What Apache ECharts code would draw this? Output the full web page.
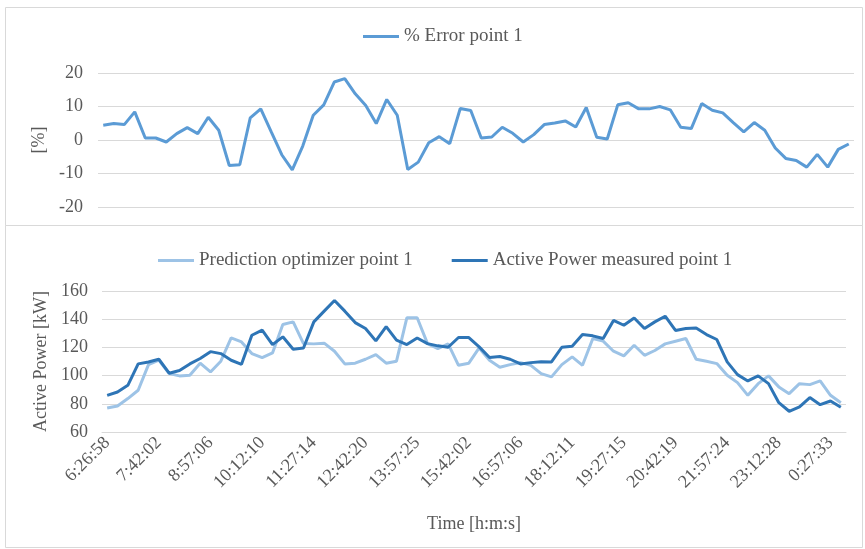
<!DOCTYPE html>
<html>
<head>
<meta charset="utf-8">
<title>Error and active power</title>
<script src="https://cdn.jsdelivr.net/npm/echarts/dist/echarts.min.js"></script>
<style>
  html, body { margin: 0; padding: 0; background: #fff; }
  #main { width: 865px; height: 549px; }
</style>
</head>
<body>
<div id="main"></div>
<script>
// labels shown on the time axis (every 5th sample)
var timeLabels = ['6:26:58', '7:42:02', '8:57:06', '10:12:10', '11:27:14', '12:42:20', '13:57:25',
  '15:42:02', '16:57:06', '18:12:11', '19:27:15', '20:42:19', '21:57:24', '23:12:28', '0:27:33'];

// % error, top panel
var errorPct = [4.4, 4.9, 4.6, 8.4, 0.6, 0.6, -0.6, 1.9, 3.7, 1.9,
  6.8, 2.9, -7.6, -7.4, 6.6, 9.3, 2.4, -4.4, -8.9, -1.8,
  7.4, 10.5, 17.3, 18.3, 13.8, 10.3, 4.9, 12.1, 7.4, -8.8,
  -6.6, -0.8, 1.0, -1.1, 9.4, 8.8, 0.6, 0.9, 3.8, 2.0,
  -0.6, 1.6, 4.6, 5.1, 5.7, 3.9, 9.7, 0.8, 0.3, 10.5,
  11.1, 9.3, 9.3, 10.0, 9.0, 3.8, 3.4, 10.9, 8.9, 8.1,
  5.2, 2.4, 5.2, 2.9, -2.4, -5.5, -6.1, -8.1, -4.3, -8.1,
  -2.8, -1.2];

// prediction optimizer, kW
var predicted = [77.0, 78.5, 83.7, 89.6, 107.8, 111.0, 101.4, 99.8, 100.2, 108.8,
  102.6, 110.2, 126.7, 123.9, 115.6, 112.8, 116.1, 136.2, 138.1, 122.7,
  122.5, 123.0, 117.3, 108.3, 108.8, 111.6, 114.9, 108.8, 110.2, 141.0,
  141.0, 122.7, 119.2, 122.5, 107.3, 108.8, 119.6, 110.9, 105.9, 107.8,
  109.2, 107.3, 101.4, 99.1, 107.8, 113.3, 107.3, 126.3, 124.5, 117.3,
  114.0, 121.5, 114.4, 117.8, 122.5, 124.4, 126.3, 111.6, 110.2, 108.5,
  100.2, 95.0, 86.0, 94.3, 99.8, 92.0, 87.2, 94.3, 93.6, 96.2,
  86.0, 80.8];

// measured active power, kW
var measured = [86.0, 88.4, 93.1, 108.3, 109.7, 111.6, 101.7, 103.6, 108.3, 112.1,
  117.0, 115.6, 110.9, 108.0, 128.6, 132.2, 122.0, 127.5, 118.7, 119.6,
  138.1, 145.7, 153.3, 145.7, 137.6, 133.4, 124.6, 134.8, 125.1, 122.0,
  126.7, 122.7, 121.1, 120.1, 127.0, 127.0, 120.4, 112.8, 113.5, 111.6,
  108.3, 109.2, 109.9, 109.7, 120.1, 120.8, 129.1, 128.2, 126.3, 139.1,
  135.7, 140.9, 133.4, 138.1, 142.1, 132.0, 133.4, 133.8, 129.1, 125.6,
  109.7, 100.7, 96.2, 99.8, 94.3, 80.8, 74.7, 77.8, 84.4, 79.4,
  82.0, 77.5];

// one category per sample, only every 5th carries a label
var categories = [];
for (var i = 0; i < measured.length; i++) {
  categories.push(i % 5 === 0 ? timeLabels[i / 5] : '');
}

var font = "'Liberation Serif', 'Times New Roman', serif";
var textColor = '#595959';
var gridColor = '#d9d9d9';

var myChart = echarts.init(document.getElementById('main'));

myChart.setOption({
  animation: false,
  textStyle: { fontFamily: font, color: textColor },
  graphic: [
    { type: 'rect', shape: { x: 5.5, y: 7.5, width: 857, height: 218 },
      style: { fill: 'none', stroke: gridColor, lineWidth: 1 } },
    { type: 'rect', shape: { x: 5.5, y: 225.5, width: 857, height: 322 },
      style: { fill: 'none', stroke: gridColor, lineWidth: 1 } }
  ],
  legend: [
    {
      data: ['% Error point 1'],
      left: 358, top: 22,
      icon: 'rect', itemWidth: 36, itemHeight: 3, itemGap: 40,
      textStyle: { fontFamily: font, fontSize: 19, color: textColor }
    },
    {
      data: ['Prediction optimizer point 1', 'Active Power measured point 1'],
      left: 153, top: 246,
      icon: 'rect', itemWidth: 36, itemHeight: 3, itemGap: 39,
      textStyle: { fontFamily: font, fontSize: 19, color: textColor }
    }
  ],
  grid: [
    { left: 98, right: 11, top: 73, height: 134 },
    { left: 102, right: 19, top: 291, height: 141 }
  ],
  xAxis: [
    {
      gridIndex: 0, type: 'category', data: categories, boundaryGap: true,
      show: false
    },
    {
      gridIndex: 1, type: 'category', data: categories, boundaryGap: true,
      name: 'Time [h:m:s]', nameLocation: 'middle', nameGap: 83,
      nameTextStyle: { fontFamily: font, fontSize: 18, color: textColor },
      axisLine: { lineStyle: { color: gridColor } },
      axisTick: { interval: 4, inside: true, length: 6, lineStyle: { color: gridColor } },
      axisLabel: { interval: 4, rotate: 45, margin: 8, fontFamily: font, fontSize: 18, color: textColor }
    }
  ],
  yAxis: [
    {
      gridIndex: 0, type: 'value', min: -20, max: 20, interval: 10,
      name: '[%]', nameLocation: 'middle', nameGap: 42,
      nameTextStyle: { fontFamily: font, fontSize: 18, color: textColor },
      axisLine: { show: false }, axisTick: { show: false },
      axisLabel: { margin: 15, fontFamily: font, fontSize: 18, color: textColor },
      splitLine: { lineStyle: { color: gridColor } }
    },
    {
      gridIndex: 1, type: 'value', min: 60, max: 160, interval: 20,
      name: 'Active Power [kW]', nameLocation: 'middle', nameGap: 47,
      nameTextStyle: { fontFamily: font, fontSize: 18, color: textColor },
      axisLine: { show: false }, axisTick: { show: false },
      axisLabel: { margin: 14, fontFamily: font, fontSize: 18, color: textColor },
      splitLine: { lineStyle: { color: gridColor } }
    }
  ],
  series: [
    {
      name: '% Error point 1', type: 'line', xAxisIndex: 0, yAxisIndex: 0,
      data: errorPct, symbol: 'none',
      lineStyle: { width: 3, color: '#5B9BD5' }, itemStyle: { color: '#5B9BD5' }
    },
    {
      name: 'Prediction optimizer point 1', type: 'line', xAxisIndex: 1, yAxisIndex: 1,
      data: predicted, symbol: 'none',
      lineStyle: { width: 3, color: '#9DC3E6' }, itemStyle: { color: '#9DC3E6' }
    },
    {
      name: 'Active Power measured point 1', type: 'line', xAxisIndex: 1, yAxisIndex: 1,
      data: measured, symbol: 'none',
      lineStyle: { width: 3, color: '#2E75B6' }, itemStyle: { color: '#2E75B6' }
    }
  ]
});
</script>
</body>
</html>
